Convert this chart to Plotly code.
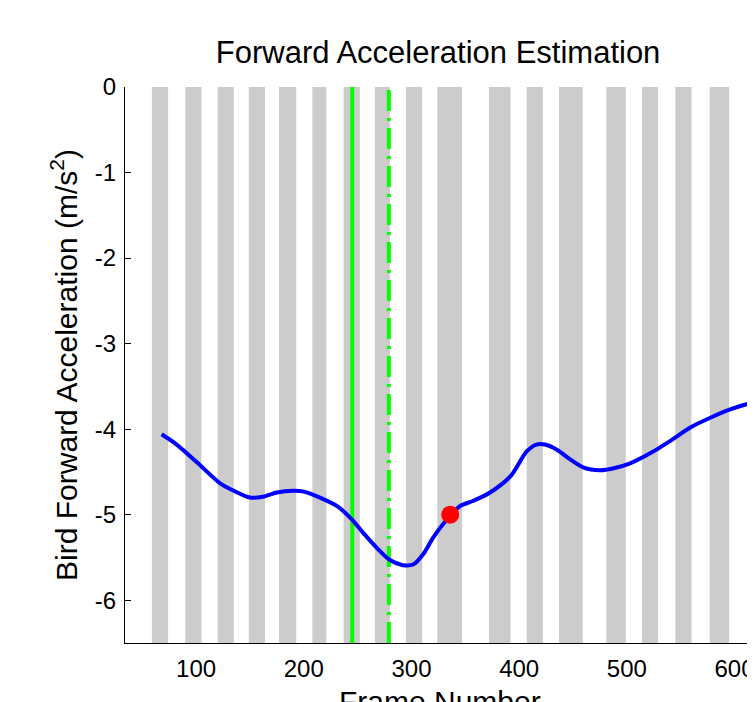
import plotly.graph_objects as go

# Data
frames = [68, 82, 101, 122, 135, 150, 162, 175, 190, 200, 215, 231, 245, 255, 268,
          280, 292, 302, 311, 320, 330, 345, 357, 373, 392, 407, 416, 424, 435, 447,
          460, 475, 487, 503, 522, 540, 559, 577, 596, 614, 625]
accel = [-4.06, -4.18, -4.39, -4.63, -4.72, -4.80, -4.79, -4.74, -4.72, -4.73, -4.80,
         -4.90, -5.06, -5.21, -5.39, -5.53, -5.59, -5.58, -5.46, -5.27, -5.10, -4.90,
         -4.84, -4.74, -4.55, -4.26, -4.18, -4.18, -4.24, -4.35, -4.45, -4.48, -4.46,
         -4.40, -4.28, -4.14, -3.98, -3.87, -3.77, -3.70, -3.68]

band_start = [59, 90, 120, 149, 177, 208, 237, 266, 295, 324, 372, 407, 437, 481, 514, 545, 577]
band_end = [74, 105, 135, 164, 193, 221, 252, 280, 310, 347, 392, 422, 459, 499, 529, 560, 595]

solid_marker_frame = 245
dashdot_marker_frame = 279

point_frame = [336]
point_accel = [-5.0]

x_tick_vals = [100, 200, 300, 400, 500, 600]
y_tick_vals = [0, -1, -2, -3, -4, -5, -6]
x_range = [34, 619]
y_range = [-6.5, 0]

shapes = []
for s, e in zip(band_start, band_end):
    shapes.append(dict(type="rect", xref="x", yref="y", x0=s, x1=e, y0=y_range[0], y1=y_range[1],
                       fillcolor="#cccccc", line=dict(width=0), layer="below"))
shapes.append(dict(type="line", xref="x", yref="y", x0=solid_marker_frame, x1=solid_marker_frame,
                   y0=y_range[0], y1=y_range[1], line=dict(color="#00ff00", width=4), layer="below"))
shapes.append(dict(type="line", xref="x", yref="y", x0=dashdot_marker_frame, x1=dashdot_marker_frame,
                   y0=y_range[0], y1=y_range[1],
                   line=dict(color="#00ff00", width=4, dash="21px,7px,3px,7px"), layer="below"))

fig = go.Figure()
fig.add_trace(go.Scatter(x=frames, y=accel, mode="lines",
                         line=dict(color="#0000ff", width=4, shape="spline", smoothing=0.8),
                         showlegend=False, hoverinfo="skip"))
fig.add_trace(go.Scatter(x=point_frame, y=point_accel, mode="markers",
                         marker=dict(color="#ff0000", size=18, line=dict(width=0)),
                         showlegend=False, hoverinfo="skip"))

tick_font = dict(family="Liberation Sans, Arial", size=24, color="black")
title_font = dict(family="Liberation Sans, Arial", size=31, color="black")
axis_title_font = dict(family="Liberation Sans, Arial", size=30, color="black")

W, H = 747, 694  # page has an 8px body margin

fig.update_layout(
    width=W, height=H,
    margin=dict(l=117, r=0, t=79, b=59, autoexpand=False),
    paper_bgcolor="white", plot_bgcolor="white",
    shapes=shapes,
    title=dict(text="Forward Acceleration Estimation", x=0.497, xref="paper",
               y=1 - 44 / H, yref="container", xanchor="center", yanchor="middle",
               font=title_font),
    xaxis=dict(range=x_range, tickvals=x_tick_vals, ticktext=[str(v) for v in x_tick_vals],
               ticks="", showgrid=False, zeroline=False, showline=True, linecolor="black",
               linewidth=1, tickfont=tick_font, ticklabeloverflow="allow", ticklabelstandoff=4,
               automargin=False),
    yaxis=dict(range=y_range, tickvals=y_tick_vals, ticktext=[str(v) for v in y_tick_vals],
               ticks="inside", ticklen=6, tickcolor="black", showgrid=False, zeroline=False,
               showline=True, linecolor="black", linewidth=1, tickfont=tick_font,
               ticklabelstandoff=3,
               title=dict(text="Bird Forward Acceleration (m/s<sup>2</sup>)", font=axis_title_font, standoff=8),
               automargin=False),
    annotations=[dict(text="Frame Number", xref="paper", yref="paper", x=0.5, y=-0.072,
                      xanchor="center", yanchor="top", showarrow=False, font=axis_title_font)],
)

fig.write_html("out.html")
